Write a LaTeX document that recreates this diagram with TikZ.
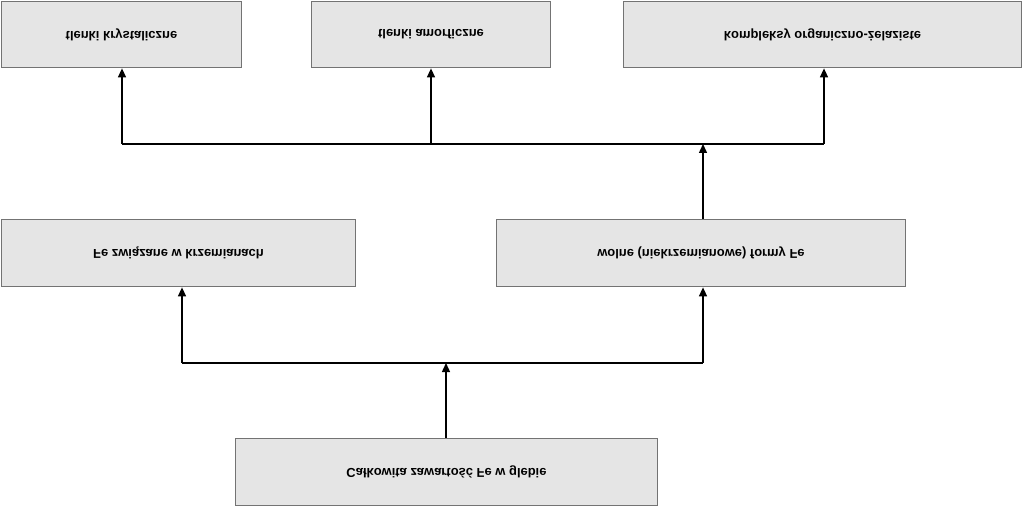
\documentclass[tikz,border=0pt]{standalone}
\usepackage{fontspec}
\setmainfont{Liberation Sans}
\usepackage{graphicx}
\usetikzlibrary{arrows.meta}
\newcommand{\fl}[1]{\scalebox{1}[-1]{#1}}
\begin{document}
\begin{tikzpicture}[x=1bp,y=-1bp,
  box/.style={draw=black!55,fill=black!10,line width=1bp,inner sep=0pt,font=\bfseries\fontsize{13}{15}\selectfont},
  arr/.style={-{Triangle[length=9bp,width=8bp]},line width=1.4bp}]
\useasboundingbox (0,0) rectangle (1024,507);
\newcommand{\bx}[6]{\node[box,minimum width=#4-#2,minimum height=#5-#3] (#1) at ({(#2+#4)/2},{(#3+#5)/2}) {\fl{#6}};}
\bx{t1}{1}{1}{242}{68}{tlenki krystaliczne}
\bx{t2}{311}{1}{551}{68}{tlenki amorficzne}
\bx{t3}{623}{1}{1022}{68}{kompleksy organiczno-żelaziste}
\bx{m1}{1}{219}{356}{287}{Fe związane w krzemianach}
\bx{m2}{496}{219}{906}{287}{wolne (niekrzemianowe) formy Fe}
\bx{b}{235}{438}{658}{506}{Całkowita zawartość Fe w glebie}
\coordinate (j1) at (446,363);
\coordinate (j2) at (703,144);
\draw[line width=1.4bp] (182,363) -- (703,363);
\draw[line width=1.4bp] (122,144) -- (824,144);
\draw[arr] (b.north -| j1) -- (j1);
\draw[arr] (182,363) -- (m1.south -| 182,0);
\draw[arr] (703,363) -- (m2.south -| 703,0);
\draw[arr] (m2.north -| j2) -- (j2);
\draw[arr] (122,144) -- (t1.south -| 122,0);
\draw[arr] (431,144) -- (t2.south -| 431,0);
\draw[arr] (824,144) -- (t3.south -| 824,0);
\end{tikzpicture}
\end{document}
